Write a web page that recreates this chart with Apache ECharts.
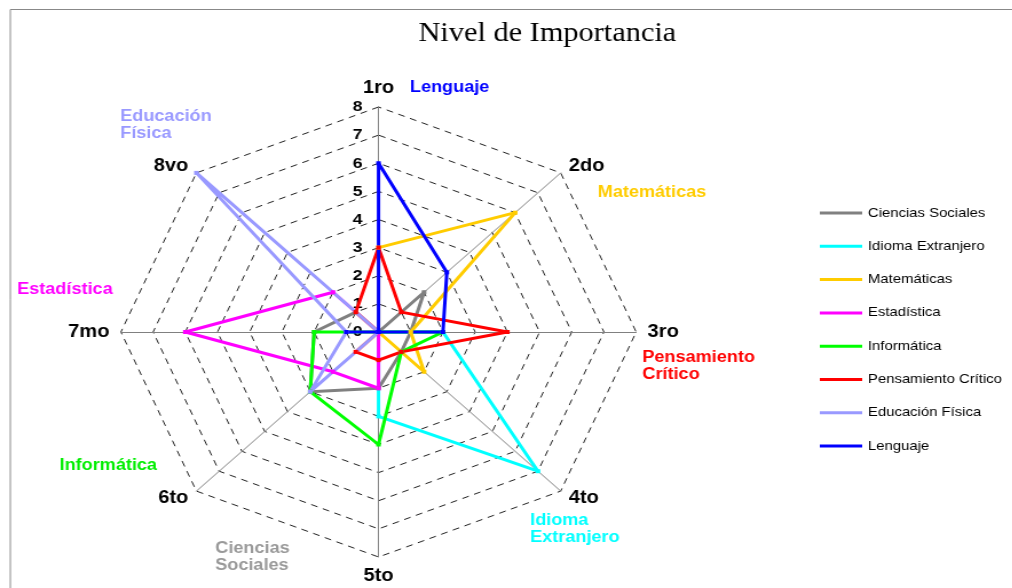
<!DOCTYPE html>
<html>
<head>
<meta charset="utf-8">
<script src="https://cdn.jsdelivr.net/npm/echarts@6/dist/echarts.min.js"></script>
<style>
  html, body { margin: 0; padding: 0; background: #fff; overflow: hidden; }
  /* the original picture is stretched sideways, so the canvas is too */
  #chart { width: 884px; height: 588px; transform: scaleX(1.145); transform-origin: 0 0; }
</style>
</head>
<body>
<div id="chart"></div>
<script>
const puestos = ['1ro', '2do', '3ro', '4to', '5to', '6to', '7mo', '8vo']
const asignaturas = ['Ciencias Sociales', 'Idioma Extranjero', 'Matemáticas', 'Estadística',
  'Informática', 'Pensamiento Crítico', 'Educación Física', 'Lenguaje']

const cienciasSociales = [0, 2, 1, 1, 2, 3, 2, 1]
const idiomaExtranjero = [0, 0, 2, 7, 3, 0, 0, 0]
const matematicas = [3, 6, 1, 2, 0, 0, 0, 0]
const estadistica = [0, 0, 0, 0, 2, 2, 6, 2]
const informatica = [0, 0, 2, 1, 4, 3, 2, 0]
const pensamiento = [3, 1, 4, 1, 1, 1, 0, 1]
const educacionFisica = [0, 0, 0, 0, 0, 3, 1, 8]
const lenguaje = [6, 3, 2, 0, 0, 0, 1, 0]

const valores = [cienciasSociales, idiomaExtranjero, matematicas, estadistica,
  informatica, pensamiento, educacionFisica, lenguaje]
const colores = ['#808080', '#00ffff', '#ffcc00', '#ff00ff', '#00ff00', '#ff0000', '#9999ff', '#0000ff']

// texto de cada asignatura junto a su puesto
const etiquetas = [
  { text: 'Lenguaje', color: '#0000ff', x: 358, y: 79 },
  { text: 'Matemáticas', color: '#ffcc00', x: 522, y: 184 },
  { text: 'Pensamiento\nCrítico', color: '#ff0000', x: 561, y: 349 },
  { text: 'Idioma\nExtranjero', color: '#00ffff', x: 463, y: 512 },
  { text: 'Ciencias\nSociales', color: '#999999', x: 188, y: 540 },
  { text: 'Informática', color: '#00ee00', x: 52, y: 457 },
  { text: 'Estadística', color: '#ff00ff', x: 15, y: 281 },
  { text: 'Educación\nFísica', color: '#9999ff', x: 105, y: 108 }
]

// echarts pone los ejes del radar en sentido antihorario, aqui van en sentido horario
const orden = [0, 7, 6, 5, 4, 3, 2, 1]
const centro = [330.6, 332]
const radio = 225

const myChart = echarts.init(document.getElementById('chart'))
myChart.setOption({
  animation: false,
  title: {
    text: 'Nivel de Importancia',
    left: 473,
    top: 16,
    textAlign: 'center',
    textStyle: { fontFamily: 'Liberation Serif', fontSize: 26.5, fontWeight: 'normal', color: '#000' }
  },
  legend: {
    orient: 'vertical',
    left: 711,
    top: 201,
    data: asignaturas,
    icon: 'rect',
    itemWidth: 37,
    itemHeight: 3,
    itemGap: 19.3,
    textStyle: { fontFamily: 'Liberation Sans', fontSize: 13, color: '#000', lineHeight: 14 }
  },
  radar: {
    center: centro,
    radius: radio,
    startAngle: 90,
    shape: 'polygon',
    splitNumber: 8,
    nameGap: 10,
    indicator: orden.map(i => ({ name: puestos[i], min: 0, max: 8 })),
    axisName: { color: '#000', fontWeight: 'bold', fontSize: 17.5, fontFamily: 'Liberation Sans' },
    axisLine: { lineStyle: { color: '#808080', width: 1 } },
    splitLine: { lineStyle: { color: '#222', width: 1, type: [6, 5] } },
    splitArea: { show: false }
  },
  polar: { center: centro, radius: radio },
  angleAxis: { show: false, startAngle: 90, min: 0, max: 360 },
  radiusAxis: {
    min: 0,
    max: 8,
    interval: 1,
    axisLine: { show: false },
    axisTick: { show: false },
    splitLine: { show: false },
    axisLabel: { color: '#000', fontWeight: 'bold', fontSize: 15.5, fontFamily: 'Liberation Sans', margin: 14 }
  },
  graphic: [
    {
      type: 'rect',
      shape: { x: 9, y: 9.5, width: 1000, height: 700 },
      style: { fill: 'none', stroke: '#888', lineWidth: 1 },
      silent: true
    },
    ...etiquetas.map(e => ({
      type: 'text',
      x: e.x,
      y: e.y,
      silent: true,
      style: {
        text: e.text,
        fill: e.color,
        font: 'bold 15.8px "Liberation Sans"',
        lineHeight: 17
      }
    }))
  ],
  series: asignaturas.map((nombre, k) => ({
    type: 'radar',
    name: nombre,
    symbol: 'rect',
    symbolSize: 4,
    lineStyle: { color: colores[k], width: 3 },
    itemStyle: { color: colores[k] },
    data: [{ name: nombre, value: orden.map(i => valores[k][i]) }]
  }))
})
</script>
</body>
</html>
